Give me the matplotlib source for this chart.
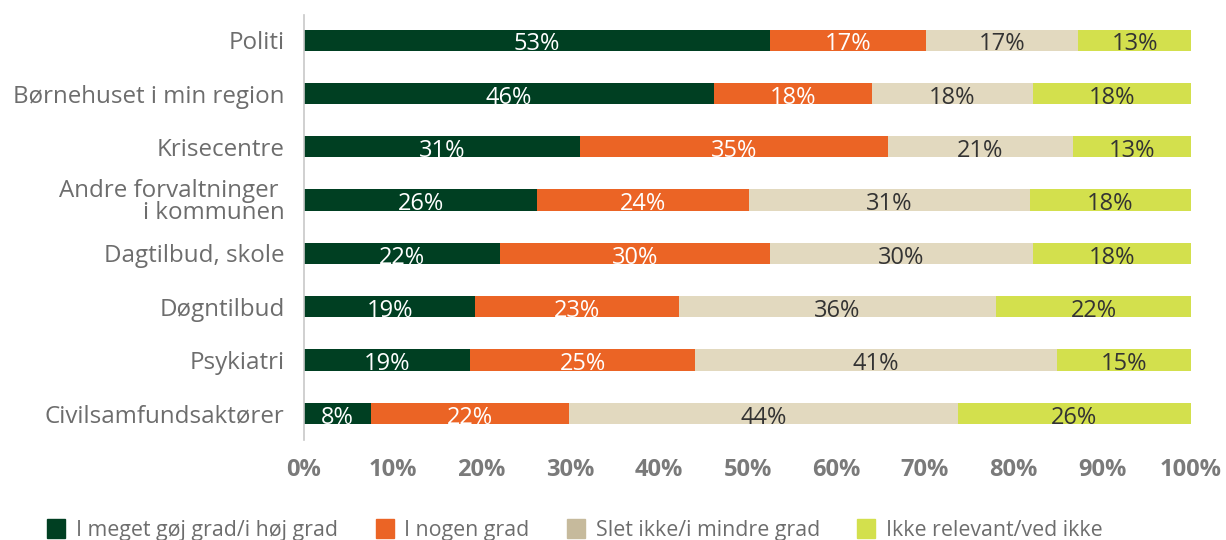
import matplotlib.pyplot as plt
import numpy as np

plt.rcParams['font.family'] = ['Open Sans', 'DejaVu Sans']

# categories, top to bottom
categories = ["Politi", "Børnehuset i min region", "Krisecentre",
              "Andre forvaltninger \ni kommunen", "Dagtilbud, skole",
              "Døgntilbud", "Psykiatri", "Civilsamfundsaktører"]

series = ["I meget gøj grad/i høj grad", "I nogen grad",
          "Slet ikke/i mindre grad", "Ikke relevant/ved ikke"]

# shares in percent (segment widths)
high = [52.5, 46.2, 31.1, 26.3, 22.1, 19.3, 18.7, 7.6]
some = [17.6, 17.8, 34.7, 23.9, 30.4, 23.0, 25.4, 22.3]
low = [17.2, 18.2, 20.9, 31.6, 29.7, 35.7, 40.8, 43.8]
na = [12.7, 17.8, 13.3, 18.2, 17.8, 22.0, 15.1, 26.3]

# printed labels
high_lbl = [53, 46, 31, 26, 22, 19, 19, 8]
some_lbl = [17, 18, 35, 24, 30, 23, 25, 22]
low_lbl = [17, 18, 21, 31, 30, 36, 41, 44]
na_lbl = [13, 18, 13, 18, 18, 22, 15, 26]

colors = ["#003f22", "#eb6425", "#e2d9bf", "#d3e04d"]
legend_colors = ["#003f22", "#eb6425", "#c6ba9c", "#d3e04d"]
text_colors = ["white", "white", "#333333", "#333333"]

fig = plt.figure(figsize=(12.26, 5.4), dpi=100)
ax = fig.add_axes([0.248, 0.185, 0.9715 - 0.248, 0.787])

y = np.arange(len(categories))
left = np.zeros(len(categories))
for vals, lbls, c, tc, name in zip([high, some, low, na],
                                   [high_lbl, some_lbl, low_lbl, na_lbl],
                                   colors, text_colors, series):
    vals = np.array(vals)
    ax.barh(y, vals, left=left, height=0.4, color=c, label=name)
    for yi, l, v, lb in zip(y, left, vals, lbls):
        ax.text(l + v / 2, yi + 0.08, f"{lb}%", ha="center", va="center",
                color=tc, fontsize=17)
    left = left + vals

ax.set_ylim(7.5, -0.47)
ax.set_xlim(0, 100)
ax.set_yticks(y)
ax.set_yticklabels(categories, fontsize=17.4, color="#6d6d6d", linespacing=0.9)
ax.set_xticks(range(0, 101, 10))
ax.set_xticklabels([f"{t}%" for t in range(0, 101, 10)], fontsize=17,
                   fontweight="bold", color="#7a7a7a")
ax.tick_params(axis="y", length=0, pad=14)
ax.tick_params(axis="x", length=0, pad=13)
for s in ["top", "right", "bottom"]:
    ax.spines[s].set_visible(False)
ax.spines["left"].set_color("#c8c8c8")
ax.spines["left"].set_linewidth(1.2)

handles = [plt.Rectangle((0, 0), 1, 1, color=c) for c in legend_colors]
fig.legend(handles, series, loc="center left", bbox_to_anchor=(0.023, 0.018),
           ncol=4, frameon=False, fontsize=15.4, handlelength=0.84,
           handleheight=1.0, handletextpad=0.5, columnspacing=1.75,
           labelcolor="#6d6d6d")

fig.savefig("out.png", dpi=100)
